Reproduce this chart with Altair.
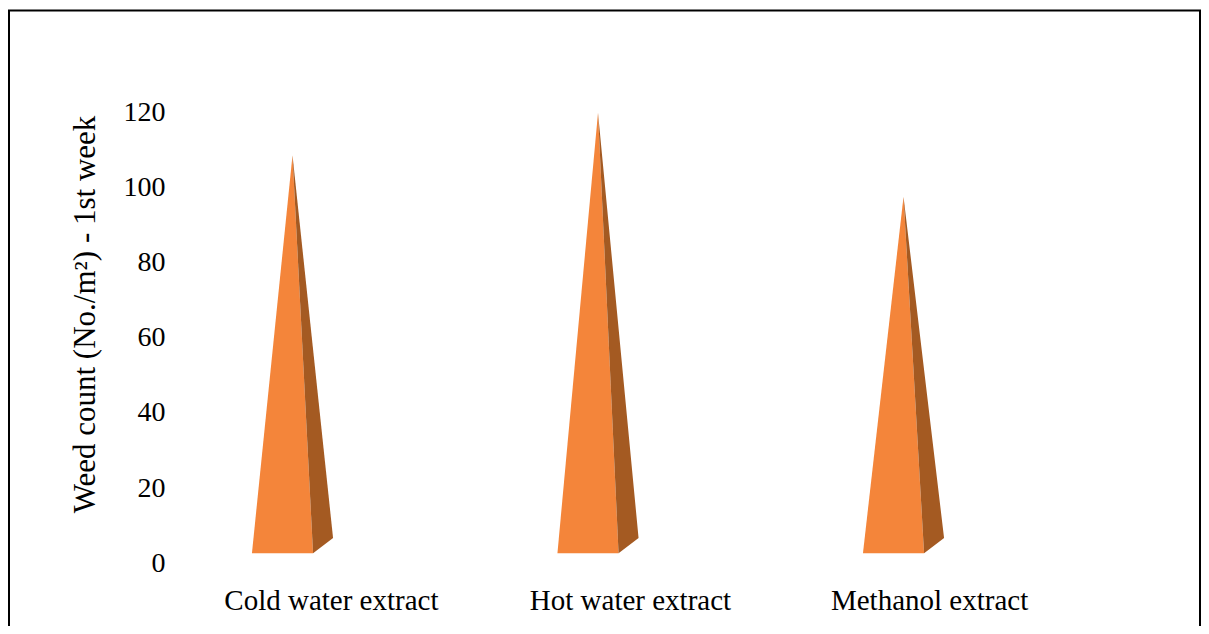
import altair as alt
import pandas as pd

# ---- data ----
categories = ["Cold water extract", "Hot water extract", "Methanol extract"]
values = [108.5, 119.8, 97.5]
y_ticks = [0, 20, 40, 60, 80, 100, 120]

# ---- layout / style constants ----
FRONT_COLOR = "#F4853A"
SIDE_COLOR = "#A45A22"
HALF_W = 0.10        # half width of pyramid front face (category units)
DEPTH_X = 0.0655     # 3D depth offset in x (category units)
FLOOR = 2.7          # value level of the front base edge
DEPTH_Y = 4.0        # 3D depth offset in y (value units)
FONT = "Liberation Serif"

W, H = 1193, 618
X_DOM = [-0.8985, 3.0065]
Y_DOM = [-16.67, 147.66]

rows = []
for i, (cat, v) in enumerate(zip(categories, values)):
    c = float(i)
    xl, xr = c - HALF_W, c + HALF_W
    xa = c + DEPTH_X / 2
    xb = xr + DEPTH_X
    yb = FLOOR + DEPTH_Y
    # front face
    rows += [
        dict(id=f"{i}f", face="front", x=xl, y=FLOOR, y2=FLOOR),
        dict(id=f"{i}f", face="front", x=xa, y=v, y2=FLOOR),
        dict(id=f"{i}f", face="front", x=xr, y=FLOOR, y2=FLOOR),
    ]
    # side face
    t = (xr - xa) / (xb - xa)
    rows += [
        dict(id=f"{i}s", face="side", x=xa, y=v, y2=v),
        dict(id=f"{i}s", face="side", x=xr, y=v + t * (yb - v), y2=FLOOR),
        dict(id=f"{i}s", face="side", x=xb, y=yb, y2=yb),
    ]
poly = pd.DataFrame(rows)

xs = alt.Scale(domain=X_DOM, nice=False, zero=False)
ys = alt.Scale(domain=Y_DOM, nice=False, zero=False)

pyramids = alt.Chart(poly).mark_area(interpolate="linear", strokeWidth=0).encode(
    x=alt.X("x:Q", scale=xs, axis=None),
    y=alt.Y("y:Q", scale=ys, stack=None,
            axis=alt.Axis(values=y_ticks, title="Weed count (No./m²) - 1st week",
                          domain=False, ticks=False, grid=False,
                          labelFont=FONT, labelFontSize=28, labelColor="#000000",
                          labelPadding=0, offset=-157,
                          titleFont=FONT, titleFontSize=31, titleFontWeight="normal",
                          titleColor="#000000", titlePadding=22, titleY=306)),
    y2="y2:Q",
    color=alt.Color("face:N", scale=alt.Scale(domain=["front", "side"],
                                              range=[FRONT_COLOR, SIDE_COLOR]),
                    legend=None),
    detail="id:N",
)

lab = pd.DataFrame({
    "cat": categories,
    "x": [i + 0.16 - 0.021 * i for i in range(len(categories))],
    "y": [-10.0] * len(categories),
})
labels = alt.Chart(lab).mark_text(font=FONT, fontSize=29, color="#000000",
                                  align="center", baseline="middle").encode(
    x=alt.X("x:Q", scale=xs),
    y=alt.Y("y:Q", scale=ys),
    text="cat:N",
)

one = pd.DataFrame({"a": [0]})
border_top = alt.Chart(one).mark_rule(color="#000000", strokeWidth=2).encode(
    x=alt.value(0), x2=alt.value(W), y=alt.value(2.5))
border_left = alt.Chart(one).mark_rule(color="#000000", strokeWidth=2).encode(
    x=alt.value(1), y=alt.value(2), y2=alt.value(H))
border_right = alt.Chart(one).mark_rule(color="#000000", strokeWidth=2).encode(
    x=alt.value(W - 1), y=alt.value(2), y2=alt.value(H))

chart = alt.layer(pyramids, labels, border_top, border_left, border_right).properties(
    width=W, height=H, padding=0, autosize=alt.AutoSizeParams(type="none"),
    background="#ffffff",
).configure_view(stroke=None)

chart.save("out.html", embed_options={"renderer": "svg", "actions": False})
